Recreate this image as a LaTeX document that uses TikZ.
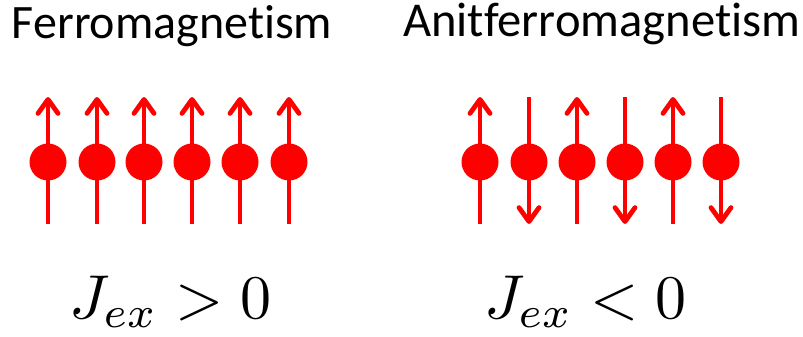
\documentclass[tikz,border=0pt]{standalone}
\usepackage{graphicx}
\usepackage{fontspec}
\usepackage{tikz}
\usetikzlibrary{arrows.meta}
\newfontfamily\titlefont[Ligatures=NoCommon]{Carlito}
\colorlet{spinred}{red}

\begin{document}
\begin{tikzpicture}[x=1pt, y=-1pt,
    every node/.style={inner sep=0pt, outer sep=0pt},
    title/.style={font=\titlefont\fontsize{48}{58}\selectfont, anchor=base west},
    law/.style={anchor=base west},
    dot/.style={circle, fill=spinred, minimum size=37pt},
    spin/.style={draw=spinred, line width=4.8pt, -{Straight Barb[length=14pt,width=20pt,round]}}]
            \useasboundingbox (0,0) rectangle (803,337);

            % Titles
            \node[title] (ferro) at (12,39) {Ferromagnetism};
            \node[title, font=\titlefont\fontsize{48.6}{58}\selectfont] (antiferro) at (403,37) {Anitferromagnetism};

            % Ferromagnet - all spins up
            \node[dot] (f1) at (48,162) {};
            \node[dot] (f2) at (97,162) {};
            \node[dot] (f3) at (144,162) {};
            \node[dot] (f4) at (192,162) {};
            \node[dot] (f5) at (240,162) {};
            \node[dot] (f6) at (289,162) {};
            \draw[spin] ([yshift=-62pt]f1.center) -- ([yshift=65pt]f1.center);
            \draw[spin] ([yshift=-62pt]f2.center) -- ([yshift=65pt]f2.center);
            \draw[spin] ([yshift=-62pt]f3.center) -- ([yshift=65pt]f3.center);
            \draw[spin] ([yshift=-62pt]f4.center) -- ([yshift=65pt]f4.center);
            \draw[spin] ([yshift=-62pt]f5.center) -- ([yshift=65pt]f5.center);
            \draw[spin] ([yshift=-62pt]f6.center) -- ([yshift=65pt]f6.center);

            % Antiferromagnet - spins alternate
            \node[dot] (a1) at (480,162) {};
            \node[dot] (a2) at (529,162) {};
            \node[dot] (a3) at (577,162) {};
            \node[dot] (a4) at (625,162) {};
            \node[dot] (a5) at (673,162) {};
            \node[dot] (a6) at (721,162) {};
            \draw[spin] ([yshift=-62pt]a1.center) -- ([yshift=65pt]a1.center);
            \draw[spin] ([yshift=65pt]a2.center) -- ([yshift=-62pt]a2.center);
            \draw[spin] ([yshift=-62pt]a3.center) -- ([yshift=65pt]a3.center);
            \draw[spin] ([yshift=65pt]a4.center) -- ([yshift=-62pt]a4.center);
            \draw[spin] ([yshift=-62pt]a5.center) -- ([yshift=65pt]a5.center);
            \draw[spin] ([yshift=65pt]a6.center) -- ([yshift=-62pt]a6.center);

            % Exchange constant
            \node[law] (jpos) at (69,318) {\scalebox{6.2}{$J_{ex} > 0$}};
            \node[law] (jneg) at (484,318) {\scalebox{6.2}{$J_{ex} < 0$}};
\end{tikzpicture}
\end{document}
